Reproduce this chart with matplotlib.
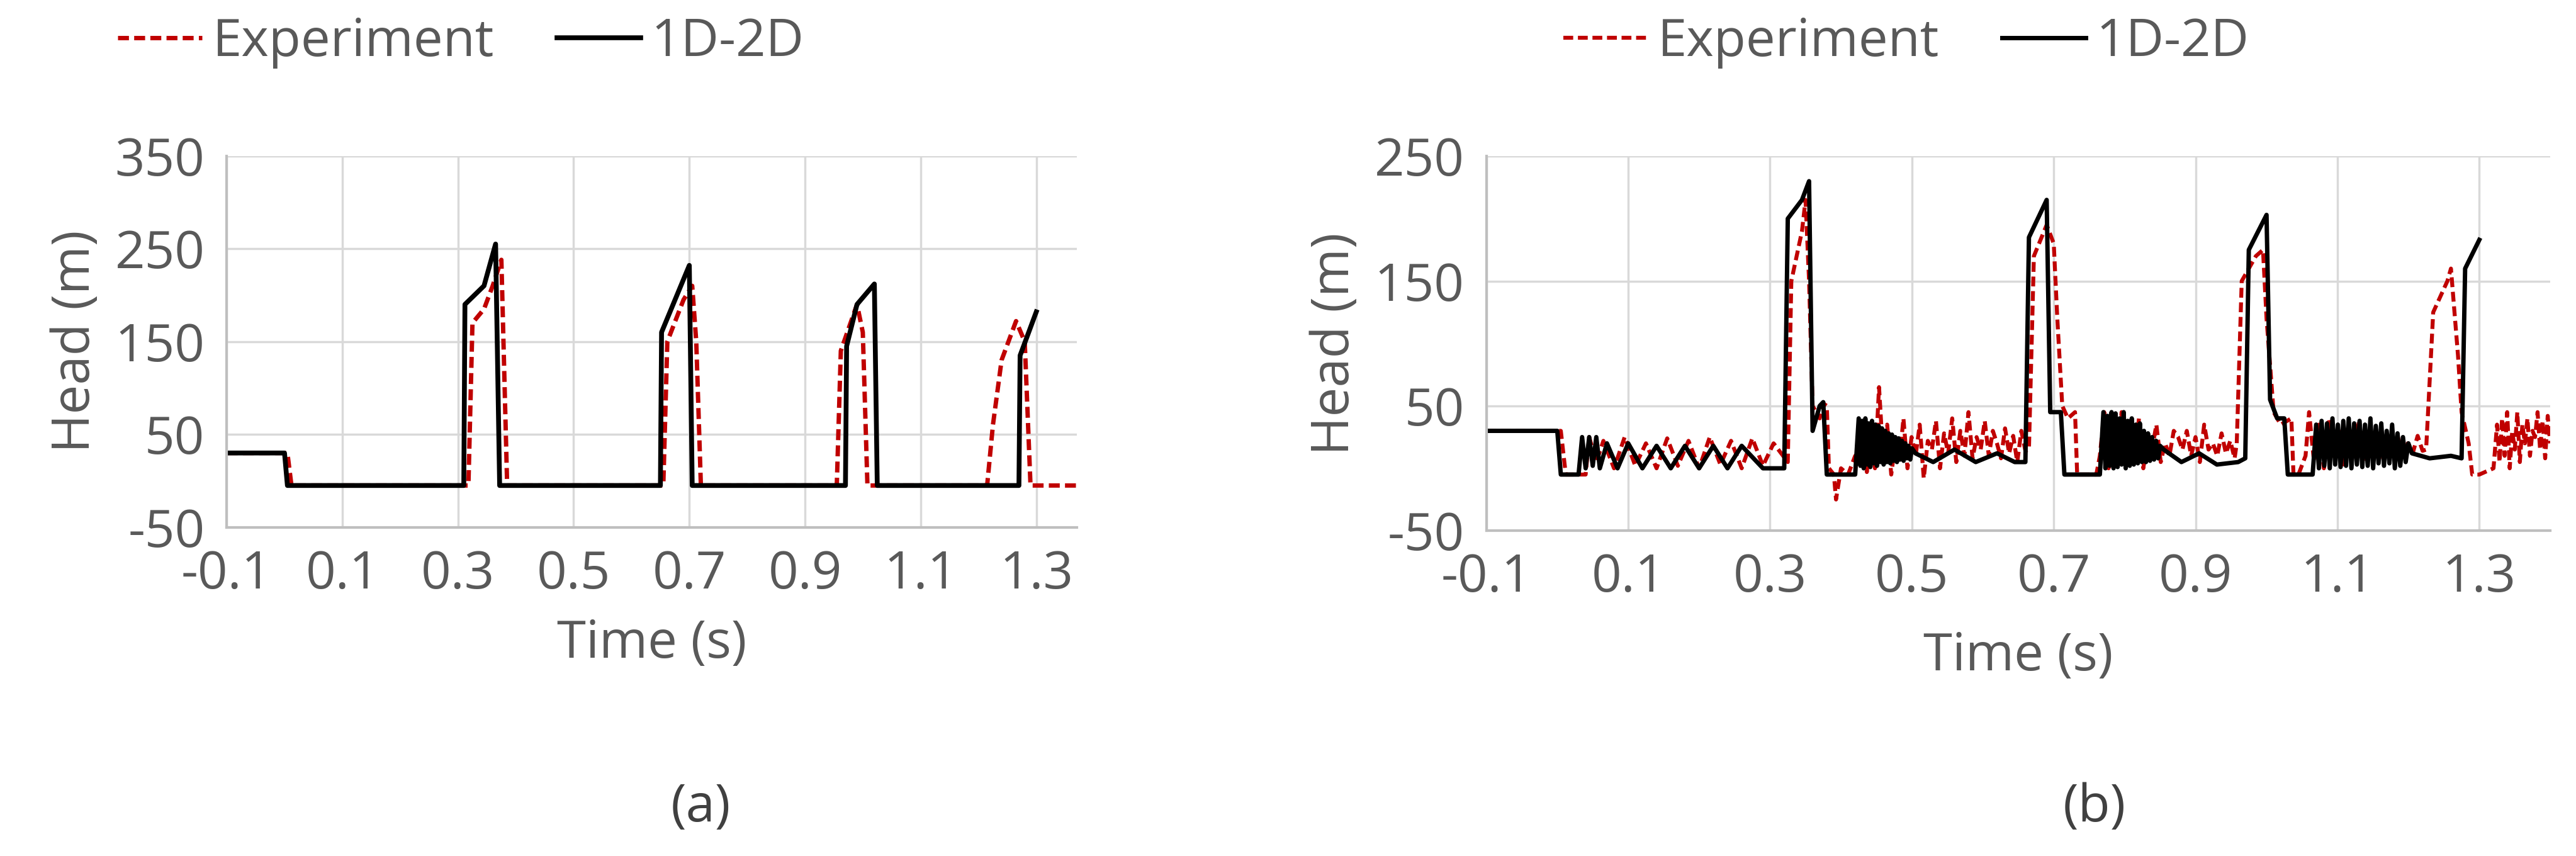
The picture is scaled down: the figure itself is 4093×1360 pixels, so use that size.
import matplotlib.pyplot as plt
import numpy as np

plt.rcParams["font.family"] = ["Open Sans", "DejaVu Sans"]
plt.rcParams["axes.unicode_minus"] = False
GREY = "#595959"
RED = "#c00000"

# panel (a)
a_sim_t = [-0.1, 0.0, 0.005, 0.31, 0.312, 0.345, 0.365, 0.372, 0.65, 0.652, 0.70, 0.705,
           0.97, 0.972, 0.99, 1.02, 1.025, 1.27, 1.272, 1.30]
a_sim_h = [30, 30, -5, -5, 190, 210, 255, -5, -5, 160, 232, -5,
           -5, 145, 190, 212, -5, -5, 135, 182]
a_exp_t = [-0.1, 0.005, 0.012, 0.318, 0.325, 0.345, 0.36, 0.375, 0.385, 0.655, 0.662,
           0.69, 0.705, 0.712, 0.72, 0.955, 0.962, 0.99, 1.0, 1.008, 1.215, 1.225, 1.24,
           1.265, 1.28, 1.29, 1.37]
a_exp_h = [30, 30, -5, -5, 170, 185, 210, 238, -5, -5, 150, 195, 210, 150, -5, -5, 140,
           190, 160, -5, -5, 60, 130, 172, 150, -5, -5]

# panel (b)
b_sim_t = [-0.1, 0.0, 0.005, 0.03, 0.035, 0.04, 0.045, 0.05, 0.055, 0.06, 0.07, 0.085,
           0.10, 0.12, 0.14, 0.16, 0.18, 0.20, 0.22, 0.24, 0.26, 0.29, 0.32, 0.325,
           0.345, 0.355, 0.36, 0.37, 0.375, 0.38, 0.42]
b_sim_h = [30, 30, -5, -5, 25, 0, 25, 2, 25, 0, 20, 0, 20, 0, 18, 0, 18, 0, 18, 0, 18,
           0, 0, 200, 215, 230, 30, 50, 53, -5, -5]
b_sim_z1 = [40, 2, 38, 0, 40, 3, 36, 1, 38, 4, 35, 2, 34, 5, 32, 3, 30, 5, 28, 4, 27,
            6, 25, 5, 24, 7, 22, 6, 20, 8, 18, 7, 16]
b_sim_t2 = [0.505, 0.53, 0.56, 0.59, 0.62, 0.645, 0.66, 0.665, 0.69, 0.695, 0.71,
            0.715, 0.765]
b_sim_h2 = [12, 5, 15, 5, 12, 5, 5, 185, 215, 45, 45, -5, -5]
b_sim_z2 = [45, 0, 42, 2, 45, 0, 44, 1, 40, 3, 45, 0, 38, 2, 40, 3, 35, 4, 36, 5, 30,
            5, 28, 6, 25, 7, 22, 8, 18]
b_sim_t3 = [0.855, 0.88, 0.905, 0.93, 0.96, 0.97, 0.975, 1.0, 1.005, 1.015, 1.025,
            1.03, 1.065]
b_sim_h3 = [15, 5, 12, 3, 5, 8, 175, 203, 55, 40, 40, -5, -5]
b_sim_z3 = [35, 0, 38, 2, 36, 0, 40, 3, 35, 1, 38, 2, 40, 0, 36, 3, 38, 1, 35, 2, 40,
            0, 34, 4, 36, 2, 30, 4, 35, 0, 28, 2, 25, 5, 20]
b_sim_t4 = [1.205, 1.23, 1.26, 1.275, 1.28, 1.30]
b_sim_h4 = [12, 8, 10, 8, 160, 183]

b_exp_t = [-0.1, 0.005, 0.012, 0.04, 0.045, 0.055, 0.065, 0.08, 0.095, 0.11, 0.125,
           0.14, 0.155, 0.17, 0.185, 0.2, 0.215, 0.23, 0.245, 0.26, 0.275, 0.29, 0.305,
           0.325, 0.33, 0.345, 0.35, 0.355, 0.36, 0.37, 0.375, 0.38, 0.383, 0.39, 0.393,
           0.40, 0.41, 0.42]
b_exp_h = [30, 30, -5, -5, 25, 5, 22, 0, 25, 2, 20, 0, 24, 2, 22, 0, 25, 3, 22, 0, 24,
           2, 20, 5, 150, 190, 215, 150, 50, 40, 52, 50, 0, -5, -25, 0, -5, 10]
b_exp_n1 = [5, 25, -3, 30, 0, 65, 10, 35, -5, 20, 5, 40, 0, 25, 10, 35, -8, 22, 15,
            38, 0, 28, 12, 40, 5, 30, 10, 45, 8, 25, 15, 38, 10, 30, 20, 8, 32, 12,
            26, 5, 30, 14]
b_exp_t2 = [0.665, 0.672, 0.69, 0.70, 0.705, 0.712, 0.72, 0.73, 0.733, 0.745, 0.76]
b_exp_h2 = [15, 170, 195, 180, 120, 50, 40, 45, -5, -5, -5]
b_exp_n2 = [10, 45, 0, 40, 5, 45, 2, 30, 10, 40, 0, 25, 15, 35, 5, 20, 10, 30, 25, 15,
            30, 10, 25, 5, 35, 15, 20, 10, 28, 12, 22, 8]
b_exp_t3 = [0.958, 0.965, 0.985, 0.995, 1.0, 1.01, 1.02, 1.035, 1.038, 1.045, 1.055]
b_exp_h3 = [20, 150, 170, 175, 120, 45, 35, 40, -5, -5, 10]
b_exp_n3 = [45, 5, 35, 0, 40, 10, 30, 0, 28, 12, 38, 5, 25, 15, 30, 8, 22, 18, 25, 10,
            20, 12, 26, 14]
b_exp_t4 = [1.225, 1.235, 1.255, 1.26, 1.27, 1.275, 1.285, 1.29, 1.30, 1.32]
b_exp_h4 = [15, 125, 150, 160, 90, 45, 20, -5, -5, 0]
b_exp_n4 = [35, 5, 40, 10, 45, 0, 30, 15, 45, 5, 35, 20, 40, 10, 30, 25, 45, 15, 38,
            8, 42, 20]

b_sim = [(b_sim_t, b_sim_h), (np.linspace(0.425, 0.50, len(b_sim_z1)), b_sim_z1),
         (b_sim_t2, b_sim_h2), (np.linspace(0.77, 0.85, len(b_sim_z2)), b_sim_z2),
         (b_sim_t3, b_sim_h3), (np.linspace(1.07, 1.20, len(b_sim_z3)), b_sim_z3),
         (b_sim_t4, b_sim_h4)]
b_exp = [(b_exp_t, b_exp_h), (np.linspace(0.425, 0.66, len(b_exp_n1)), b_exp_n1),
         (b_exp_t2, b_exp_h2), (np.linspace(0.765, 0.955, len(b_exp_n2)), b_exp_n2),
         (b_exp_t3, b_exp_h3), (np.linspace(1.06, 1.22, len(b_exp_n3)), b_exp_n3),
         (b_exp_t4, b_exp_h4), (np.linspace(1.325, 1.40, len(b_exp_n4)), b_exp_n4)]


def join(parts):
    t = np.concatenate([np.asarray(p[0], float) for p in parts])
    h = np.concatenate([np.asarray(p[1], float) for p in parts])
    return t, h


def style(ax, ylim, yticks, xmax, xlabelpad):
    ax.set_xlim(-0.1, xmax)
    ax.set_ylim(*ylim)
    ax.set_xticks(np.arange(-0.1, 1.31, 0.2))
    ax.set_xticklabels(["-0.1", "0.1", "0.3", "0.5", "0.7", "0.9", "1.1", "1.3"])
    ax.set_yticks(yticks)
    ax.grid(color="#d9d9d9", lw=2.5)
    ax.set_axisbelow(True)
    for s in ["top", "right"]:
        ax.spines[s].set_visible(False)
    for s in ["left", "bottom"]:
        ax.spines[s].set_color("#bfbfbf")
        ax.spines[s].set_linewidth(3)
    ax.tick_params(length=0, labelsize=60, colors=GREY, pad=25)
    ax.set_xlabel("Time (s)", fontsize=60, color=GREY, labelpad=xlabelpad)
    ax.set_ylabel("Head (m)", fontsize=60, color=GREY, labelpad=15)


fig = plt.figure(figsize=(40.93, 13.6), dpi=100)
ax1 = fig.add_axes([0.088, 0.384, 0.330, 0.434])
ax2 = fig.add_axes([0.577, 0.380, 0.413, 0.4375])

ax1.plot(a_exp_t, a_exp_h, color=RED, lw=5, ls=(0, (2.5, 1.2)), label="Experiment")
ax1.plot(a_sim_t, a_sim_h, color="black", lw=5.5, label="1D-2D")
style(ax1, (-50, 350), [-50, 50, 150, 250, 350], 1.37, 20)

t, h = join(b_exp)
ax2.plot(t, h, color=RED, lw=4.5, ls=(0, (2.5, 1.2)), label="Experiment")
t, h = join(b_sim)
ax2.plot(t, h, color="black", lw=5, label="1D-2D")
style(ax2, (-50, 250), [-50, 50, 150, 250], 1.40, 30)

for ax, x in [(ax1, 0.179), (ax2, 0.74)]:
    ax.legend(loc="center", bbox_to_anchor=(x, 0.95), bbox_transform=fig.transFigure,
              ncol=2, frameon=False, fontsize=60, labelcolor=GREY, handlelength=1.6,
              columnspacing=1.2, handletextpad=0.2)

fig.text(0.272, 0.056, "(a)", fontsize=60, color="#404040", ha="center", va="center")
fig.text(0.813, 0.056, "(b)", fontsize=60, color="#404040", ha="center", va="center")

fig.savefig("out.png", dpi=100)
